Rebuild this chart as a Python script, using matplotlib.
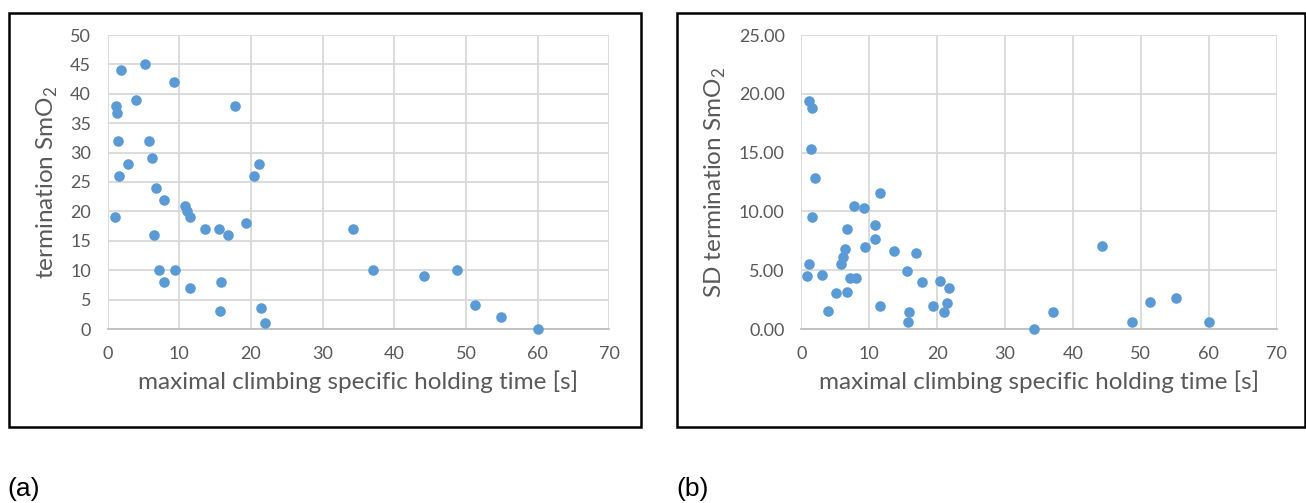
import numpy as np
import matplotlib.pyplot as plt
from matplotlib.patches import Rectangle
from matplotlib.ticker import FormatStrFormatter

# (a) holding time vs termination SmO2
time_a = [1.9, 5.2, 9.2, 1.2, 1.3, 4.0, 17.8, 1.5, 5.7, 6.2, 2.9, 1.6, 6.7, 7.8, 1.0,
          10.8, 11.0, 11.5, 13.6, 15.5, 16.8, 19.3, 6.4, 7.1, 9.4, 7.9, 11.5, 15.8,
          15.7, 20.4, 21.1, 21.4, 21.9, 34.2, 37.0, 44.1, 48.7, 51.2, 54.9, 60.0]
smo2_a = [44, 45, 42, 38, 36.7, 39, 38, 32, 32, 29, 28, 26, 24, 22, 19,
          21, 20, 19, 17, 17, 16, 18, 16, 10, 10, 8, 7, 8,
          3, 26, 28, 3.6, 1, 17, 10, 9, 10, 4, 2, 0]

# (b) holding time vs SD termination SmO2
time_b = [1.2, 1.6, 1.5, 2.0, 1.6, 1.2, 0.9, 3.0, 3.9, 5.1, 5.8, 6.1, 6.4, 6.7,
          6.7, 7.1, 8.0, 7.8, 9.3, 9.4, 10.9, 10.9, 11.6, 11.6, 13.7, 15.5, 15.8,
          15.7, 16.9, 17.8, 19.4, 20.4, 21.0, 21.5, 21.8, 34.3, 37.1, 44.3, 48.7,
          51.4, 55.1, 60.1]
sd_b = [19.39, 18.76, 15.30, 12.81, 9.50, 5.56, 4.50, 4.60, 1.50, 3.03, 5.50, 6.09,
        6.80, 8.50, 3.17, 4.30, 4.30, 10.43, 10.29, 6.94, 8.87, 7.65, 11.54, 1.96,
        6.63, 4.93, 1.47, 0.57, 6.49, 4.02, 1.98, 4.08, 1.47, 2.18, 3.46, 0.00,
        1.47, 7.06, 0.57, 2.27, 2.64, 0.57]

plt.rcParams['font.family'] = ['Lato', 'DejaVu Sans']
TXT = '#595959'
DOT = '#5b9bd5'
W, H = 1306, 503

fig = plt.figure(figsize=(13.06, 5.03), dpi=100)


def box(x0, x1, y0, y1):
    fig.patches.append(Rectangle((x0 / W, 1 - y1 / H), (x1 - x0) / W, (y1 - y0) / H,
                                 transform=fig.transFigure, fill=False,
                                 edgecolor='black', linewidth=1.8))


def panel(left, right, x, y, ymax, ystep, ylabel, fmt, ylab_x, ylab_y):
    ax = fig.add_axes([left / W, 1 - 329 / H, (right - left) / W, 294 / H])
    ax.scatter(x, y, s=58, color=DOT, zorder=3, clip_on=False, linewidths=0)
    ax.set_xlim(0, 70)
    ax.set_ylim(0, ymax)
    ax.set_xticks(np.arange(0, 71, 10))
    ax.set_yticks(np.arange(0, ymax + 0.01, ystep))
    ax.yaxis.set_major_formatter(FormatStrFormatter(fmt))
    ax.grid(True, color='#d9d9d9', linewidth=1.3, zorder=0)
    ax.set_axisbelow(True)
    for s in ['top', 'right', 'left']:
        ax.spines[s].set_visible(False)
    ax.spines['bottom'].set_color('#bfbfbf')
    ax.spines['bottom'].set_linewidth(1.3)
    ax.tick_params(length=0, labelsize=13, labelcolor=TXT)
    ax.tick_params(axis='x', pad=12)
    ax.tick_params(axis='y', pad=12)
    ax.set_xlabel('maximal climbing specific holding time [s]', fontsize=17.5,
                  color=TXT, va='center')
    ax.xaxis.set_label_coords(0.5, -0.18)
    ax.set_ylabel(ylabel, fontsize=17.5, color=TXT, va='center')
    ax.yaxis.set_label_coords(ylab_x, ylab_y)
    return ax


box(8.5, 641, 12.5, 427)
box(677.5, 1304.5, 12.5, 427)

panel(107.7, 609.3, time_a, smo2_a, 50, 5, r'termination SmO$_\mathregular{2}$',
      '%d', -0.121, 0.5)
panel(801.3, 1276.7, time_b, sd_b, 25, 5, r'SD termination SmO$_\mathregular{2}$',
      '%.2f', -0.18, 0.5)

fig.text(7.5 / W, 7 / H, '(a)', fontsize=19, family='Liberation Sans', color='black')
fig.text(676.5 / W, 7 / H, '(b)', fontsize=19, family='Liberation Sans', color='black')

fig.savefig('out.png', dpi=100)
